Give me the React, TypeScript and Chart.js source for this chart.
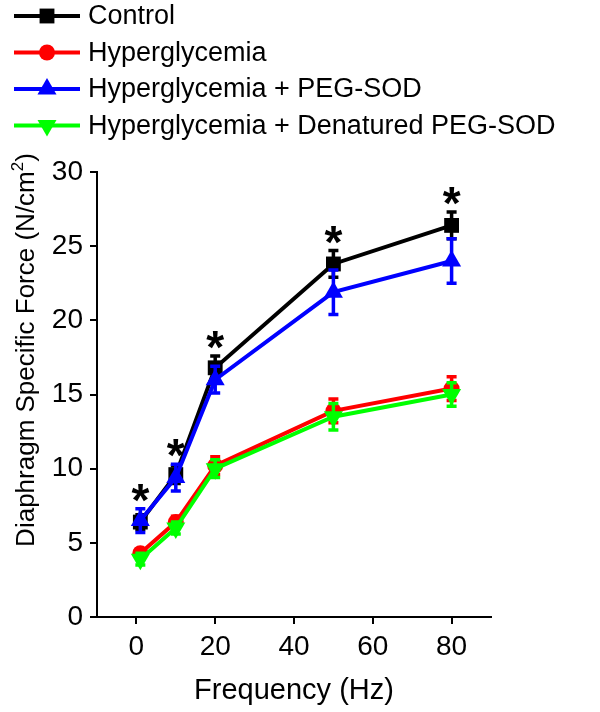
import React, { useEffect, useRef } from 'react';
import { Chart, registerables } from 'chart.js';

Chart.register(...registerables);

// ---- data ----
const frequencies = [1, 10, 20, 50, 80];
const seriesLabels = [
  'Control',
  'Hyperglycemia',
  'Hyperglycemia + PEG-SOD',
  'Hyperglycemia + Denatured PEG-SOD',
];
const controlMean = [6.4, 9.6, 16.8, 23.8, 26.4];
const controlErr = [0.5, 0.6, 0.8, 0.9, 0.9];
const hyperMean = [4.3, 6.4, 10.2, 13.9, 15.4];
const hyperErr = [0.3, 0.4, 0.6, 0.8, 0.8];
const pegMean = [6.5, 9.4, 16.0, 21.9, 24.0];
const pegErr = [0.8, 0.9, 0.9, 1.5, 1.5];
const denatMean = [3.9, 6.0, 10.0, 13.5, 15.0];
const denatErr = [0.4, 0.4, 0.6, 0.9, 0.8];
const significant = [true, true, true, true, true];
const xTickValues = [0, 20, 40, 60, 80];
const yTickValues = [0, 5, 10, 15, 20, 25, 30];
const xTitle = 'Frequency (Hz)';
const yTitleMain = 'Diaphragm Specific Force (N/cm';
const yTitleSup = '2';
const yTitleEnd = ')';

const FONT = 'Arial, "Liberation Sans", Helvetica, sans-serif';

const seriesColors = ['#000000', '#ff0000', '#0000ff', '#00ff00'];
const seriesStyles = ['rect', 'circle', 'triangle', 'triangle'];
const seriesRotations = [0, 0, 0, 180];
const seriesRadius = [10.5, 8, 11, 11];

function drawMarker(ctx: CanvasRenderingContext2D, style: string, rot: number, r: number, x: number, y: number, color: string) {
  ctx.save();
  ctx.fillStyle = color;
  ctx.beginPath();
  if (style === 'rect') {
    const s = r * Math.SQRT1_2;
    ctx.rect(x - s, y - s, 2 * s, 2 * s);
  } else if (style === 'circle') {
    ctx.arc(x, y, r, 0, Math.PI * 2);
  } else {
    const sgn = rot === 180 ? -1 : 1;
    const h = r * Math.cos(Math.PI / 3);
    const w = r * Math.sin(Math.PI / 3);
    ctx.moveTo(x, y - sgn * r);
    ctx.lineTo(x + w, y + sgn * h);
    ctx.lineTo(x - w, y + sgn * h);
    ctx.closePath();
  }
  ctx.fill();
  ctx.restore();
}

const errorBarPlugin = {
  id: 'errorBars',
  beforeDatasetDraw(chart: any, args: any) {
    const ds = chart.data.datasets[args.index];
    const meta = chart.getDatasetMeta(args.index);
    const yScale = chart.scales.y;
    const ctx = chart.ctx;
    ctx.save();
    ctx.strokeStyle = ds.borderColor;
    ctx.lineWidth = 3.5;
    meta.data.forEach((pt: any, j: number) => {
      const v = ds.data[j].y;
      const e = ds.errors[j];
      const yTop = yScale.getPixelForValue(v + e);
      const yBot = yScale.getPixelForValue(v - e);
      const x = pt.x;
      ctx.beginPath();
      ctx.moveTo(x, yTop);
      ctx.lineTo(x, yBot);
      ctx.moveTo(x - 5, yTop);
      ctx.lineTo(x + 5, yTop);
      ctx.moveTo(x - 5, yBot);
      ctx.lineTo(x + 5, yBot);
      ctx.stroke();
    });
    ctx.restore();
  },
};

const starPlugin = {
  id: 'stars',
  afterDatasetsDraw(chart: any) {
    const ctx = chart.ctx;
    const xs = chart.scales.x;
    const ys = chart.scales.y;
    ctx.save();
    ctx.fillStyle = '#000';
    ctx.font = `bold 46px ${FONT}`;
    ctx.textAlign = 'center';
    ctx.textBaseline = 'alphabetic';
    frequencies.forEach((f, j) => {
      if (!significant[j]) return;
      let top = Infinity;
      chart.data.datasets.forEach((ds: any) => {
        top = Math.min(top, ys.getPixelForValue(ds.data[j].y + ds.errors[j]));
      });
      ctx.fillText('*', xs.getPixelForValue(f), top + 7);
    });
    ctx.restore();
  },
};

const yTitlePlugin = {
  id: 'yTitle',
  afterDraw(chart: any) {
    const ctx = chart.ctx;
    const area = chart.chartArea;
    const cx = area.left - 70;
    const cy = area.top + (area.bottom - area.top) * 0.4;
    ctx.save();
    ctx.translate(cx, cy);
    ctx.rotate(-Math.PI / 2);
    ctx.fillStyle = '#000';
    ctx.textBaseline = 'middle';
    ctx.textAlign = 'left';
    const mainFont = `26px ${FONT}`;
    const supFont = `17px ${FONT}`;
    ctx.font = mainFont;
    const w1 = ctx.measureText(yTitleMain).width;
    const w3 = ctx.measureText(yTitleEnd).width;
    ctx.font = supFont;
    const w2 = ctx.measureText(yTitleSup).width;
    const total = w1 + w2 + w3;
    let x0 = -total / 2;
    ctx.font = mainFont;
    ctx.fillText(yTitleMain, x0, 0);
    x0 += w1;
    ctx.font = supFont;
    ctx.fillText(yTitleSup, x0, -9);
    x0 += w2;
    ctx.font = mainFont;
    ctx.fillText(yTitleEnd, x0, 0);
    ctx.restore();
  },
};

const legendPlugin = {
  id: 'customLegend',
  afterDraw(chart: any) {
    const ctx = chart.ctx;
    ctx.save();
    chart.data.datasets.forEach((ds: any, i: number) => {
      const y = 16 + i * 36.5;
      ctx.strokeStyle = ds.borderColor;
      ctx.lineWidth = 4;
      ctx.beginPath();
      ctx.moveTo(14, y);
      ctx.lineTo(80, y);
      ctx.stroke();
      drawMarker(ctx, seriesStyles[i], seriesRotations[i], seriesRadius[i], 47, y, ds.borderColor);
      ctx.fillStyle = '#000';
      ctx.font = `27px ${FONT}`;
      ctx.textAlign = 'left';
      ctx.textBaseline = 'middle';
      ctx.fillText(ds.label, 88, y + 1);
    });
    ctx.restore();
  },
};

export default function App() {
  const ref = useRef<HTMLCanvasElement | null>(null);

  useEffect(() => {
    if (!ref.current) return;
    const means = [controlMean, hyperMean, pegMean, denatMean];
    const errs = [controlErr, hyperErr, pegErr, denatErr];
    const datasets = seriesLabels.map((label, i) => ({
      label,
      data: frequencies.map((f, j) => ({ x: f, y: means[i][j] })),
      errors: errs[i],
      borderColor: seriesColors[i],
      backgroundColor: seriesColors[i],
      pointBackgroundColor: seriesColors[i],
      pointBorderColor: seriesColors[i],
      pointBorderWidth: 0,
      pointStyle: seriesStyles[i],
      pointRotation: seriesRotations[i],
      pointRadius: seriesRadius[i],
      borderWidth: 4,
      tension: 0,
      fill: false,
      order: 4 - i,
    }));

    const chart = new Chart(ref.current, {
      type: 'line',
      data: { datasets: datasets as any },
      plugins: [errorBarPlugin, starPlugin, yTitlePlugin, legendPlugin],
      options: {
        animation: false,
        responsive: false,
        layout: { padding: { left: 0, top: 172, right: 109, bottom: 0 } },
        plugins: {
          legend: { display: false },
          tooltip: { enabled: false },
        },
        scales: {
          x: {
            type: 'linear',
            min: -10,
            max: 90,
            afterBuildTicks: (axis: any) => {
              axis.ticks = xTickValues.map((v) => ({ value: v }));
            },
            afterFit: (axis: any) => {
              axis.height = 95;
            },
            ticks: {
              color: '#000',
              font: { family: FONT, size: 28 },
              padding: 6,
              maxRotation: 0,
            },
            grid: {
              display: true,
              drawOnChartArea: false,
              drawTicks: true,
              tickLength: 7,
              lineWidth: 2,
              color: '#000',
            },
            border: { display: true, color: '#000', width: 2 },
            title: {
              display: true,
              text: xTitle,
              color: '#000',
              font: { family: FONT, size: 29 },
              padding: { top: 4, bottom: 4 },
            },
          },
          y: {
            type: 'linear',
            min: 0,
            max: 30,
            afterBuildTicks: (axis: any) => {
              axis.ticks = yTickValues.map((v) => ({ value: v }));
            },
            afterFit: (axis: any) => {
              axis.width = 97;
            },
            ticks: {
              color: '#000',
              font: { family: FONT, size: 28 },
              padding: 7,
            },
            grid: {
              display: true,
              drawOnChartArea: false,
              drawTicks: true,
              tickLength: 7,
              lineWidth: 2,
              color: '#000',
            },
            border: { display: true, color: '#000', width: 2 },
          },
        },
      } as any,
    });
    return () => chart.destroy();
  }, []);

  return (
    <div style={{ position: 'fixed', left: 0, top: 0, width: 600, height: 712, background: '#fff' }}>
      <canvas ref={ref} width={600} height={712} style={{ display: 'block' }} />
    </div>
  );
}
